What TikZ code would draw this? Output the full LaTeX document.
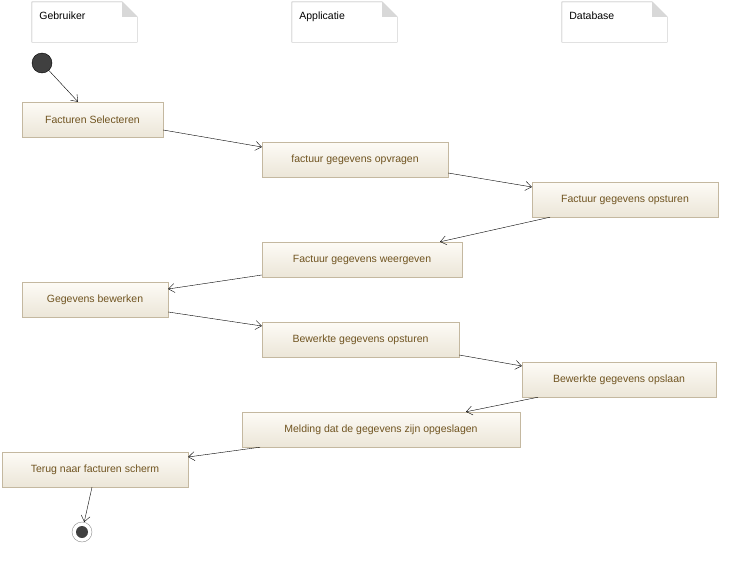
\documentclass[tikz,border=0pt]{standalone}
\usepackage{fontspec}
\setmainfont{Liberation Sans}
\usetikzlibrary{arrows.meta,backgrounds}
\definecolor{actborder}{RGB}{196,184,160}
\definecolor{acttop}{RGB}{253,251,246}
\definecolor{actbottom}{RGB}{236,230,216}
\definecolor{acttext}{RGB}{112,84,32}
\definecolor{notefold}{RGB}{216,216,216}
\definecolor{noteborder}{RGB}{170,170,170}
\tikzstyle{action}=[draw=actborder, top color=acttop, bottom color=actbottom, minimum height=35pt, inner sep=0pt, text=acttext, font=\fontsize{10.5}{12}\selectfont]
\tikzstyle{note}=[minimum width=105pt, minimum height=40pt, inner sep=0pt]
\tikzstyle{notelabel}=[anchor=north west, xshift=4pt, yshift=-7pt, font=\fontsize{10.5}{12}\selectfont]
\tikzstyle{startpoint}=[circle, fill=black!75, draw=black, minimum size=20pt, inner sep=0pt]
\tikzstyle{endpoint}=[circle, fill=white, draw=black!45, minimum size=20pt, inner sep=0pt, path picture={\fill[black!75] (path picture bounding box.center) circle (6pt);}]
\tikzstyle{arrow}=[draw=black, -{Straight Barb[length=6pt,width=9pt]}]

\begin{document}
\begin{tikzpicture}[x=1pt, y=-1pt]
	\useasboundingbox (0,0) rectangle (737,562);
	\begin{scope}
		\node (gebruiker) at (84.5, 22)[note, label={[notelabel]north west:Gebruiker}] {};
		\node (applicatie) at (344.5, 22)[note, label={[notelabel]north west:Applicatie}] {};
		\node (database) at (614.5, 22)[note, label={[notelabel]north west:Database}] {};
	\end{scope}
	\begin{scope}[on background layer]
		\foreach \n in {gebruiker, applicatie, database} {
			\draw[noteborder, fill=white] (\n.north west) -- ([xshift=-15pt]\n.north east) -- ([yshift=-15pt]\n.north east) -- (\n.south east) -- (\n.south west) -- cycle;
			\fill[notefold] ([xshift=-15pt]\n.north east) -- ([xshift=-15pt, yshift=-15pt]\n.north east) -- ([yshift=-15pt]\n.north east) -- cycle;
		}
	\end{scope}
	\begin{scope}
		\node (start) at (42, 63)[startpoint] {};
		\node (selecteren) at (92.5, 119.5)[action, minimum width=141pt] {Facturen Selecteren};
		\node (opvragen) at (355, 159.5)[action, minimum width=186pt] {factuur gegevens opvragen};
		\node (opsturen) at (625, 199.5)[action, minimum width=186pt] {Factuur gegevens opsturen};
		\node (weergeven) at (362, 259.5)[action, minimum width=200pt] {Factuur gegevens weergeven};
		\node (bewerken) at (95, 299.5)[action, minimum width=146pt] {Gegevens bewerken};
		\node (bewopsturen) at (360.5, 339.5)[action, minimum width=197pt] {Bewerkte gegevens opsturen};
		\node (opslaan) at (619, 379.5)[action, minimum width=194pt] {Bewerkte gegevens opslaan};
		\node (melding) at (381, 429.5)[action, minimum width=278pt] {Melding dat de gegevens zijn opgeslagen};
		\node (terug) at (95, 469.5)[action, minimum width=186pt] {Terug naar facturen scherm};
		\node (end) at (82, 532)[endpoint] {};
	\end{scope}
	\begin{scope}
		\draw [arrow] (start) -- ([xshift=-14.5pt]selecteren.north);
		\draw [arrow] ([yshift=-10.5pt]selecteren.east) -- ([yshift=12.5pt]opvragen.west);
		\draw [arrow] ([yshift=-13.5pt]opvragen.east) -- ([yshift=12.5pt]opsturen.west);
		\draw [arrow] ([xshift=-75pt]opsturen.south) -- ([xshift=78pt]weergeven.north);
		\draw [arrow] ([yshift=-15.5pt]weergeven.west) -- ([yshift=10.5pt]bewerken.east);
		\draw [arrow] ([yshift=-12.5pt]bewerken.east) -- ([yshift=13.5pt]bewopsturen.west);
		\draw [arrow] ([yshift=-15.5pt]bewopsturen.east) -- ([yshift=13.5pt]opslaan.west);
		\draw [arrow] ([xshift=-81pt]opslaan.south) -- ([xshift=85pt]melding.north);
		\draw [arrow] ([xshift=-121pt]melding.south) -- ([yshift=12.5pt]terug.east);
		\draw [arrow] ([xshift=-3pt]terug.south) -- (end);
	\end{scope}
\end{tikzpicture}
\end{document}
